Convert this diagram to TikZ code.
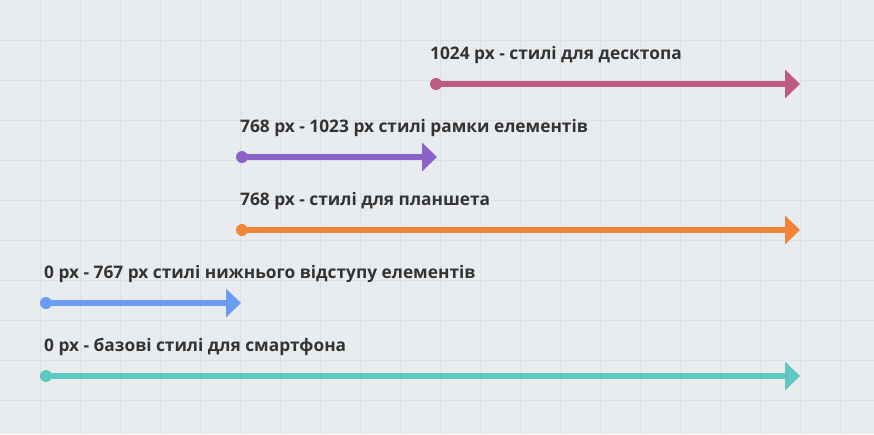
\documentclass[tikz,border=0pt]{standalone}
\usepackage{fontspec}
\setmainfont{Open Sans}
\usetikzlibrary{arrows.meta}
\definecolor{bg}{HTML}{E9ECEF}
\definecolor{gridc}{HTML}{DCE0E4}
\definecolor{txt}{HTML}{333333}
\definecolor{cpink}{HTML}{BD5B80}
\definecolor{cpurple}{HTML}{8A62C8}
\definecolor{corange}{HTML}{F0853A}
\definecolor{cblue}{HTML}{6B9CF2}
\definecolor{cteal}{HTML}{5FC9C0}
\tikzset{
  gridline/.style={draw=gridc, line width=1pt},
  rangearrow/.style={line width=6pt, -{Triangle[length=15pt,width=28pt]}},
  startdot/.style={circle, inner sep=0pt, minimum size=12pt},
  label/.style={anchor=base west, inner sep=0pt, text=txt, font=\fontsize{17.3}{20}\selectfont\bfseries},
}
\begin{document}
\begin{tikzpicture}[x=1pt,y=-1pt]
\fill[bg] (0,0) rectangle (874,434);
\useasboundingbox (0,0) rectangle (874,434);
\foreach \gx in {40,80,...,840} \draw[gridline] (\gx,0) -- (\gx,434);
\foreach \gy in {40,80,...,400} \draw[gridline] (0,\gy) -- (874,\gy);

% pink
\node[startdot, fill=cpink] (s1) at (436,84) {};
\coordinate (e1) at (800,84);
\draw[rangearrow, cpink] (s1.center) -- (e1);
\node[label] (t1) at (430,59) {1024 px - стилі для десктопа};

% purple
\node[startdot, fill=cpurple] (s2) at (242,157) {};
\coordinate (e2) at (437,157);
\draw[rangearrow, cpurple] (s2.center) -- (e2);
\node[label] (t2) at (240,132) {768 px - 1023 px стилі рамки елементів};

% orange
\node[startdot, fill=corange] (s3) at (242,230) {};
\coordinate (e3) at (800,230);
\draw[rangearrow, corange] (s3.center) -- (e3);
\node[label] (t3) at (240,205) {768 px - стилі для планшета};

% blue
\node[startdot, fill=cblue] (s4) at (46,303) {};
\coordinate (e4) at (241,303);
\draw[rangearrow, cblue] (s4.center) -- (e4);
\node[label] (t4) at (44,278) {0 px - 767 px стилі нижнього відступу елементів};

% teal
\node[startdot, fill=cteal] (s5) at (46,376) {};
\coordinate (e5) at (800,376);
\draw[rangearrow, cteal] (s5.center) -- (e5);
\node[label] (t5) at (44,351) {0 px - базові стилі для смартфона};
\end{tikzpicture}
\end{document}
